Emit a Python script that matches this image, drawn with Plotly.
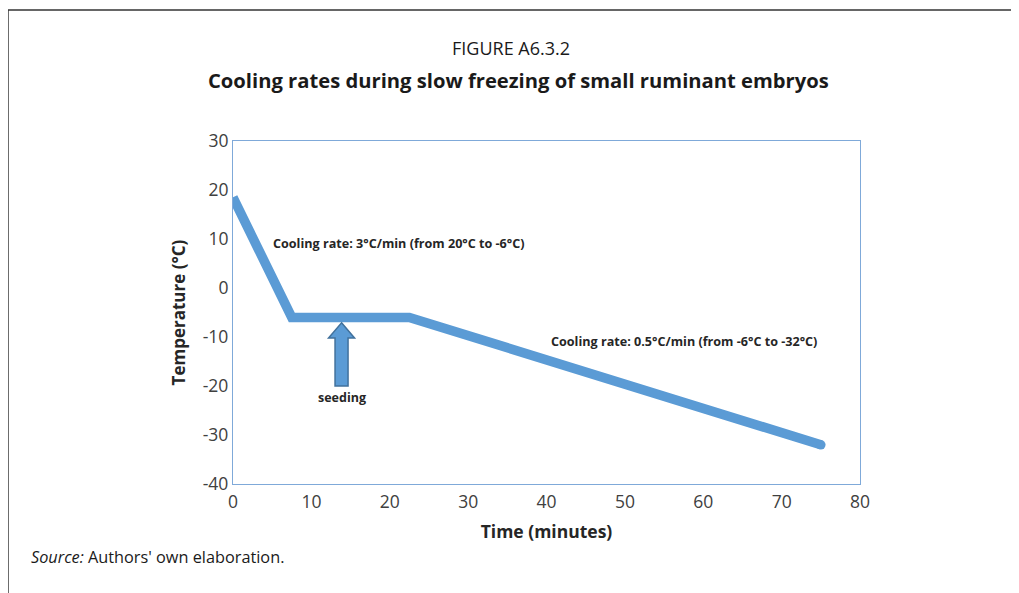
import plotly.graph_objects as go

# Data
time_min = [0, 7.5, 22.5, 75]
temp_c = [18.5, -6, -6, -32]
x_ticks = [0, 10, 20, 30, 40, 50, 60, 70, 80]
y_ticks = [30, 20, 10, 0, -10, -20, -30, -40]
y_tick_text = ["30", "20", "10", "0", "-10", "-20", "-30", "-40"]

# Seeding arrow (data coords)
arrow_x = 13.85
arrow_tip = -7.1
arrow_head_base = -10.2
arrow_bottom = -20.0
head_half = 1.66
body_half = 0.83

BLUE = "#5B9BD5"
FONT = "Open Sans"

fig = go.Figure()
fig.add_trace(go.Scatter(
    x=time_min, y=temp_c, mode="lines",
    line=dict(color=BLUE, width=9.5),
    hoverinfo="skip", showlegend=False,
))
fig.add_trace(go.Scatter(
    x=[time_min[-1]], y=[temp_c[-1]], mode="markers",
    marker=dict(color=BLUE, size=9.5), hoverinfo="skip", showlegend=False,
))

ax = arrow_x
path = (f"M {ax},{arrow_tip} L {ax+head_half},{arrow_head_base} L {ax+body_half},{arrow_head_base} "
        f"L {ax+body_half},{arrow_bottom} L {ax-body_half},{arrow_bottom} L {ax-body_half},{arrow_head_base} "
        f"L {ax-head_half},{arrow_head_base} Z")
fig.add_shape(type="path", path=path, xref="x", yref="y",
              fillcolor=BLUE, line=dict(color="#41719C", width=1.5))

# Outer frame lines (top and left)
fig.add_shape(type="line", xref="paper", yref="paper", x0=-0.3589, x1=1.252, y0=1.382, y1=1.382,
              line=dict(color="#333333", width=1.5))
fig.add_shape(type="line", xref="paper", yref="paper", x0=-0.3589, x1=-0.3589, y0=1.382, y1=-0.33,
              line=dict(color="#333333", width=1.5))

fig.add_annotation(x=4.8, y=9.0, xref="x", yref="y", xanchor="left", yanchor="middle",
                   text="<b>Cooling rate: 3°C/min (from 20°C to -6°C)</b>", showarrow=False,
                   font=dict(family=FONT, size=12.6, color="#262626"))
fig.add_annotation(x=40.3, y=-11.0, xref="x", yref="y", xanchor="left", yanchor="middle",
                   text="<b>Cooling rate: 0.5°C/min (from -6°C to -32°C)</b>", showarrow=False,
                   font=dict(family=FONT, size=12.6, color="#262626"))
fig.add_annotation(x=arrow_x, y=-22.4, xref="x", yref="y", xanchor="center", yanchor="middle",
                   text="<b>seeding</b>", showarrow=False,
                   font=dict(family=FONT, size=12.5, color="#262626"))

# Titles
fig.add_annotation(x=0.443, y=1.271, xref="paper", yref="paper", xanchor="center", yanchor="middle",
                   text="FIGURE A6.3.2", showarrow=False,
                   font=dict(family=FONT, size=18, color="#1a1a1a"))
fig.add_annotation(x=0.455, y=1.178, xref="paper", yref="paper", xanchor="center", yanchor="middle",
                   text="<b>Cooling rates during slow freezing of small ruminant embryos</b>", showarrow=False,
                   font=dict(family=FONT, size=20.2, color="#1a1a1a"))
fig.add_annotation(x=-0.325, y=-0.213, xref="paper", yref="paper", xanchor="left", yanchor="middle",
                   text="<i>Source:</i> Authors' own elaboration.", showarrow=False,
                   font=dict(family=FONT, size=16.3, color="#1a1a1a"))

fig.update_layout(
    width=1011, height=585,
    margin=dict(l=225, r=159, t=133, b=109),
    paper_bgcolor="white", plot_bgcolor="white",
    font=dict(family=FONT, color="#404040"),
    xaxis=dict(range=[0, 80], tickvals=x_ticks, ticks="", showgrid=False, zeroline=False,
               showline=True, mirror=True, linecolor="#7FA9D9", linewidth=1.2,
               tickfont=dict(size=17.5, color="#404040"), ticklabelstandoff=2,
               title=dict(text="<b>Time (minutes)</b>", font=dict(size=17.5, color="#262626"), standoff=13)),
    yaxis=dict(range=[-40, 30], tickvals=y_ticks, ticktext=y_tick_text, ticks="", showgrid=False,
               zeroline=False, showline=True, mirror=True, linecolor="#7FA9D9", linewidth=1.2,
               tickfont=dict(size=17.5, color="#404040"),
               title=dict(text="<b>Temperature (°C)</b>", font=dict(size=17, color="#262626"), standoff=12)),
)

fig.write_html("out.html")
